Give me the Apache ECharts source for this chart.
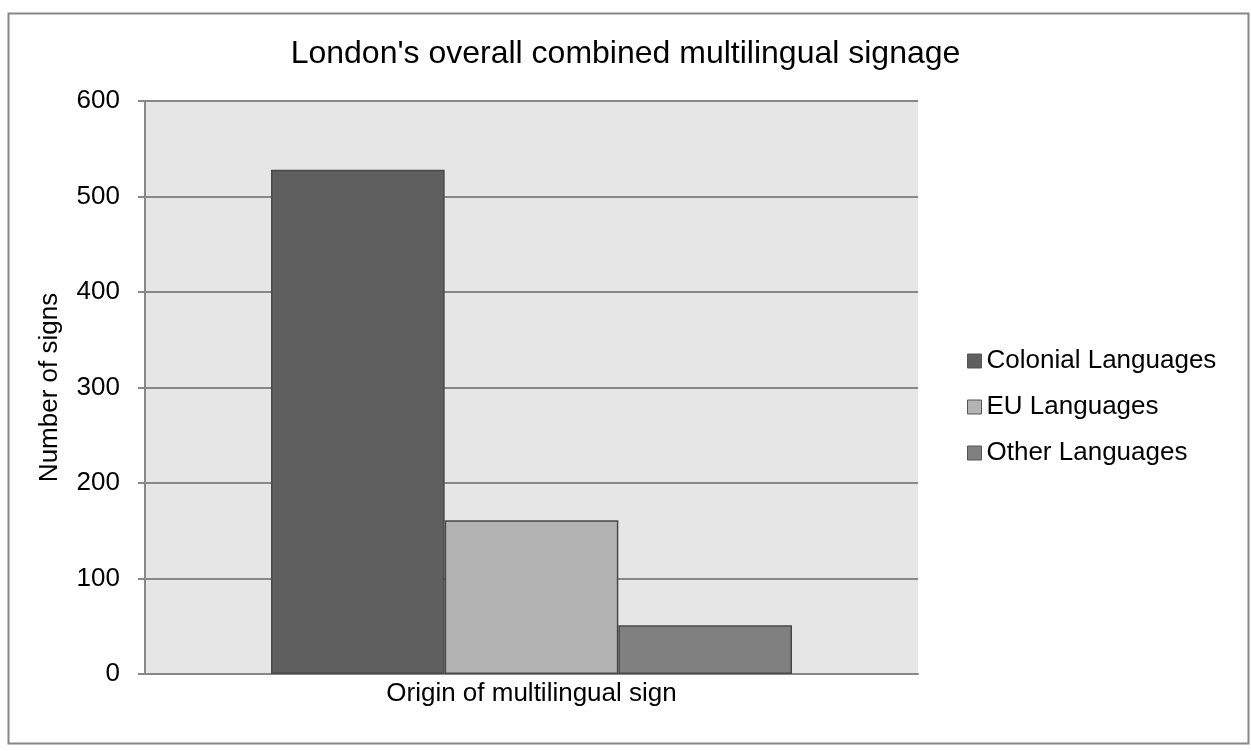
<!DOCTYPE html>
<html><head><meta charset="utf-8">
<script src="https://cdn.jsdelivr.net/npm/echarts@6/dist/echarts.min.js"></script>
<style>html,body{margin:0;padding:0;background:#fff}#c{width:1251px;height:751px}</style>
</head><body><div id="c"></div>
<script>
const categories = ['Origin of multilingual sign'];
const seriesNames = ['Colonial Languages', 'EU Languages', 'Other Languages'];
const colonialValues = [528];
const euValues = [161];
const otherValues = [51];
const yTicks = [0, 100, 200, 300, 400, 500, 600];

const colors = ['#5f5f5f', '#b3b3b3', '#808080'];
const valuesList = [colonialValues, euValues, otherValues];
const font = 'Liberation Sans, Arial, sans-serif';

const chart = echarts.init(document.getElementById('c'), null, {renderer: 'canvas'});
chart.setOption({
  animation: false,
  backgroundColor: '#fff',
  graphic: [{type: 'rect', left: 6, top: 11, shape: {width: 1240, height: 730}, style: {fill: 'none', stroke: '#878787', lineWidth: 2}, silent: true, z: -1}],
  title: {text: "London's overall combined multilingual signage", left: 'center', top: 33,
    textStyle: {fontFamily: font, fontSize: 32, fontWeight: 'normal', color: '#000'}},
  grid: {left: 145, top: 101, width: 773, height: 573, show: true, backgroundColor: '#e6e6e6', borderWidth: 0, containLabel: false},
  legend: {orient: 'vertical', left: 962, top: 343, itemWidth: 14, itemHeight: 14, itemGap: 20,
    icon: 'rect', textStyle: {fontFamily: font, fontSize: 26, color: '#000'},
    data: seriesNames.map((n, i) => ({name: n, itemStyle: {color: colors[i], borderColor: '#555', borderWidth: 1}}))},
  xAxis: {type: 'category', data: categories,
    axisLine: {show: true, lineStyle: {color: '#888', width: 2}},
    axisTick: {show: false},
    axisLabel: {fontFamily: font, fontSize: 26, color: '#000', margin: 7}},
  yAxis: {type: 'value', min: yTicks[0], max: yTicks[yTicks.length - 1], interval: 100,
    name: 'Number of signs', nameLocation: 'middle', nameGap: 82, nameRotate: 90,
    nameTextStyle: {fontFamily: font, fontSize: 26, color: '#000'},
    axisLine: {show: true, lineStyle: {color: '#888', width: 2}},
    axisTick: {show: true, length: 7, lineStyle: {color: '#888', width: 2}},
    axisLabel: {fontFamily: font, fontSize: 26, color: '#000', margin: 25},
    splitLine: {show: true, lineStyle: {color: '#888', width: 2}}},
  series: seriesNames.map((n, i) => ({
    name: n, type: 'bar', data: valuesList[i], barGap: '0%', barCategoryGap: '32.6%',
    itemStyle: {color: colors[i], borderColor: '#484848', borderWidth: 1.5}
  }))
});
</script></body></html>
